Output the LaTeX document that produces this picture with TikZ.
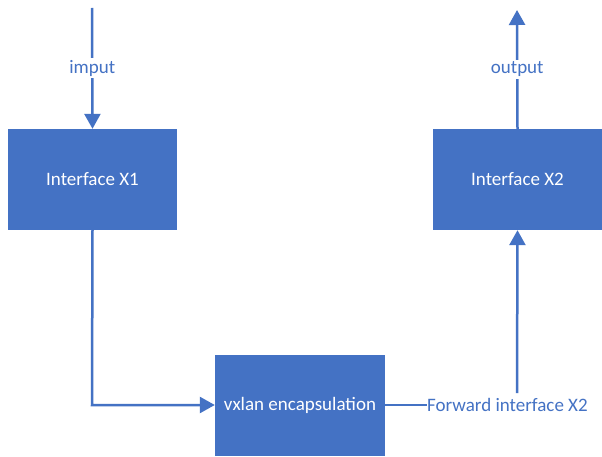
\documentclass[tikz,border=0pt]{standalone}
\usepackage{fontspec}
\setmainfont{Carlito}
\usetikzlibrary{arrows.meta}
\definecolor{boxblue}{HTML}{4472C4}
\tikzset{
  block/.style={draw=none, fill=boxblue, text=white, minimum width=169pt, minimum height=101pt, inner sep=0pt, font=\fontsize{19}{23}\selectfont},
  link/.style={draw=boxblue, line width=2.5pt},
  tip/.style={-{Triangle[width=16pt,length=15pt]}},
  lbl/.style={fill=white, text=boxblue, inner sep=2pt, font=\fontsize{19}{23}\selectfont}
}
\begin{document}
\begin{tikzpicture}[x=1pt,y=1pt]
  \useasboundingbox[fill=white] (0,0) rectangle (602,456);
  % processing blocks
  \node[block] (x1) at (92.5,276.5) {Interface X1};
  \node[block] (x2) at (517.5,276.5) {Interface X2};
  \node[block, minimum width=170pt] (vxl) at (300,51) {vxlan encapsulation};
  % loose ends
  \coordinate (in) at (92,448);
  \coordinate (out) at (517,446);
  \coordinate (bend) at (92,51);
  \coordinate (up) at (517,63);
  % input path
  \draw[link, tip] (in) -- (x1.north) node[lbl, pos=0.5] {imput};
  % X1 to encapsulation
  \draw[link, tip] (x1.south) -- (bend) -- (vxl.west);
  % forward label and its links
  \node[lbl, anchor=west, inner sep=0pt] (fwd) at (427,51) {Forward interface X2};
  \draw[link] (vxl.east) -- (fwd.west);
  \draw[link, tip] (up) -- (x2.south);
  % output path
  \draw[link, tip] (x2.north) -- (out) node[lbl, pos=0.5] {output};
\end{tikzpicture}
\end{document}
